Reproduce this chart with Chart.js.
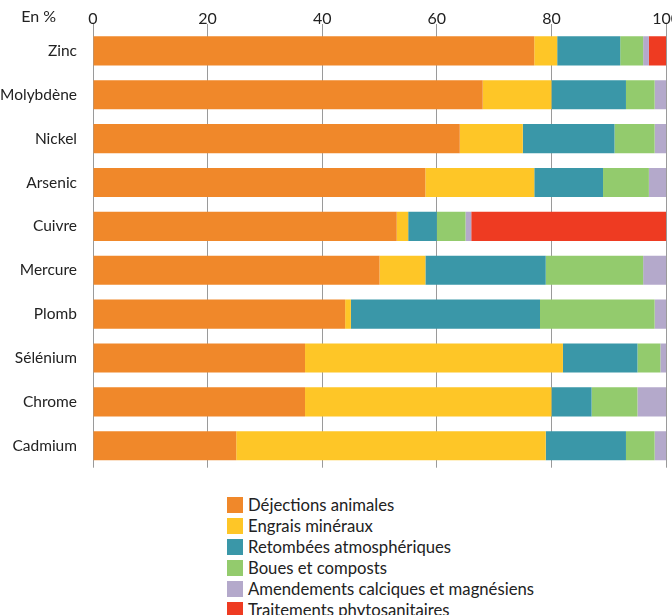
<!DOCTYPE html>
<html>
<head>
<meta charset="utf-8">
<script src="https://cdn.jsdelivr.net/npm/chart.js@4.4.1/dist/chart.umd.min.js"></script>
<style>
  html, body { margin: 0; padding: 0; background: #fff; overflow: hidden; width: 672px; height: 615px; }
  #wrap { position: absolute; left: 0; top: 0; width: 677px; height: 485px; }
  #legend { position: absolute; left: 227px; top: 494px; font-family: Lato, sans-serif; font-size: 16.7px; color: #222; }
  #legend .row { height: 21px; display: flex; align-items: center; white-space: nowrap; }
  #legend .box { width: 16px; height: 16px; margin-right: 5px; flex: none; }
</style>
</head>
<body>
<div id="wrap"><canvas id="chart"></canvas></div>
<div id="legend"></div>
<script>
// Elements (top to bottom)
const elements = ["Zinc", "Molybdène", "Nickel", "Arsenic", "Cuivre", "Mercure", "Plomb", "Sélénium", "Chrome", "Cadmium"];

// Shares in %, one array per source
const dejections   = [77, 68, 64, 58, 53, 50, 44, 37, 37, 25];
const engrais      = [4, 12, 11, 19, 2, 8, 1, 45, 43, 54];
const retombees    = [11, 13, 16, 12, 5, 21, 33, 13, 7, 14];
const boues        = [4, 5, 7, 8, 5, 17, 20, 4, 8, 5];
const amendements  = [1, 2, 2, 3, 1, 4, 2, 1, 5, 2];
const traitements  = [3, 0, 0, 0, 34, 0, 0, 0, 0, 0];

const xTicks = [0, 20, 40, 60, 80, 100];

const font = "Lato, sans-serif";

const series = [
    { label: "Déjections animales", data: dejections, color: "#f0882a" },
    { label: "Engrais minéraux", data: engrais, color: "#fec627" },
    { label: "Retombées atmosphériques", data: retombees, color: "#3a97a8" },
    { label: "Boues et composts", data: boues, color: "#93cb6d" },
    { label: "Amendements calciques et magnésiens", data: amendements, color: "#b4a9cb" },
    { label: "Traitements phytosanitaires", data: traitements, color: "#ee3b22" }
];

// "En %" written left of the top tick labels
const unitLabel = {
    id: 'unitLabel',
    afterDraw(chart) {
        const ctx = chart.ctx;
        ctx.save();
        ctx.font = "16px " + font;
        ctx.fillStyle = "#222";
        ctx.textAlign = "right";
        ctx.textBaseline = "middle";
        ctx.fillText("En %", 56, 17);
        ctx.restore();
    }
};

const initChart = () => {
    const ctx = document.getElementById('chart').getContext('2d');
    new Chart(ctx, {
        type: 'bar',
        data: {
            labels: elements,
            datasets: series.map(s => ({
                label: s.label,
                data: s.data,
                backgroundColor: s.color,
                borderWidth: 0,
                categoryPercentage: 0.664,
                barPercentage: 1
            }))
        },
        options: {
            indexAxis: 'y',
            responsive: true,
            maintainAspectRatio: false,
            animation: false,
            layout: { padding: 0 },
            plugins: {
                legend: { display: false },
                tooltip: { enabled: false }
            },
            scales: {
                x: {
                    position: 'top',
                    stacked: true,
                    min: 0,
                    max: 100,
                    afterBuildTicks: (scale) => { scale.ticks = xTicks.map(v => ({ value: v })); },
                    afterFit: (scale) => { scale.height = 29; },
                    grid: { color: '#9a9a9a', lineWidth: 1, tickLength: 5 },
                    border: { display: false },
                    ticks: {
                        padding: -3,
                        color: '#222',
                        font: { family: font, size: 16, lineHeight: 1 }
                    }
                },
                y: {
                    stacked: true,
                    afterFit: (scale) => { scale.width = 93; },
                    grid: { display: false },
                    border: { display: false },
                    ticks: {
                        padding: 8,
                        color: '#222',
                        font: { family: font, size: 15.5 }
                    }
                }
            }
        },
        plugins: [unitLabel]
    });

    // Legend below the chart
    const legend = document.getElementById('legend');
    series.forEach(s => {
        const row = document.createElement('div');
        row.className = 'row';
        row.innerHTML = '<span class="box" style="background:' + s.color + '"></span><span>' + s.label + '</span>';
        legend.appendChild(row);
    });
};

document.addEventListener('DOMContentLoaded', initChart);
</script>
</body>
</html>
